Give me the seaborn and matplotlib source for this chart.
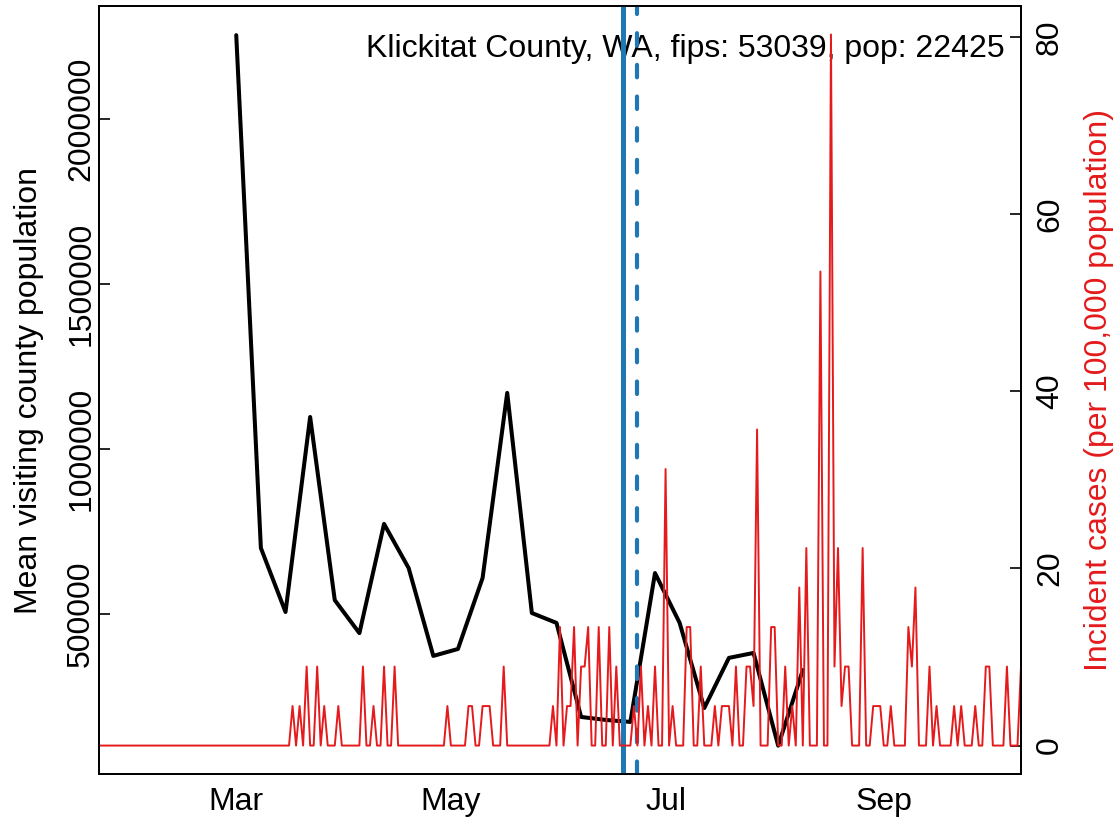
import pandas as pd
import seaborn as sns
import matplotlib.pyplot as plt
import matplotlib.dates as mdates

county_label = "Klickitat County, WA, fips: 53039, pop: 22425"
county_pop = 22425

# daily new cases, starting 2020-01-22
case_start = "2020-01-22"
daily_cases = [
    0, 0, 0, 0, 0, 0, 0, 0, 0, 0, 0, 0, 0, 0, 0, 0, 0, 0, 0, 0,
    0, 0, 0, 0, 0, 0, 0, 0, 0, 0, 0, 0, 0, 0, 0, 0, 0, 0, 0, 0,
    0, 0, 0, 0, 0, 0, 0, 0, 0, 0, 0, 0, 0, 0, 0, 1, 0, 1, 0, 2,
    0, 0, 2, 0, 1, 0, 0, 0, 1, 0, 0, 0, 0, 0, 0, 2, 0, 0, 1, 0,
    0, 2, 0, 0, 2, 0, 0, 0, 0, 0, 0, 0, 0, 0, 0, 0, 0, 0, 0, 1,
    0, 0, 0, 0, 0, 1, 1, 0, 0, 1, 1, 1, 0, 0, 0, 2, 0, 0, 0, 0,
    0, 0, 0, 0, 0, 0, 0, 0, 0, 1, 0, 3, 0, 1, 1, 3, 0, 2, 2, 3,
    0, 0, 3, 0, 0, 3, 0, 2, 0, 0, 0, 0, 1, 0, 2, 0, 1, 0, 2, 0,
    0, 7, 0, 1, 0, 0, 0, 3, 3, 0, 0, 2, 0, 0, 0, 1, 0, 1, 1, 1,
    0, 2, 0, 0, 2, 2, 1, 8, 0, 0, 0, 3, 3, 0, 0, 2, 0, 1, 0, 4,
    0, 5, 0, 0, 0, 12, 0, 0, 18, 2, 5, 1, 2, 2, 0, 0, 0, 5, 0, 0,
    1, 1, 1, 0, 0, 1, 0, 0, 0, 0, 3, 2, 4, 0, 0, 0, 2, 0, 1, 0,
    0, 0, 0, 1, 0, 1, 0, 0, 0, 1, 0, 0, 2, 2, 0, 0, 0, 0, 2, 0,
    0, 0, 2,
]

# weekly mean visiting county population, starting 2020-03-01
visit_start = "2020-03-01"
visit_pop = [
    2254000, 700000, 506000, 1097000, 542000, 442000, 773000, 639000,
    373000, 394000, 609000, 1170000, 503000, 473000, 188000, 179000,
    173000, 624000, 473000, 215000, 367000, 382000, 101000, 330000,
]

policy_dates = ["2020-06-19", "2020-06-23"]

cases = pd.DataFrame({
    "date": pd.date_range(case_start, periods=len(daily_cases), freq="D"),
    "incidence": [c / county_pop * 100000 for c in daily_cases],
})
visits = pd.DataFrame({
    "date": pd.date_range(visit_start, periods=len(visit_pop), freq="7D"),
    "pop": visit_pop,
})

sns.set_style("white")
plt.rcParams["font.family"] = ["Liberation Sans", "DejaVu Sans"]
plt.rcParams["font.size"] = 23
plt.rcParams["text.color"] = "black"
plt.rcParams["axes.labelcolor"] = "black"
plt.rcParams["xtick.color"] = "black"
plt.rcParams["ytick.color"] = "black"

red = "#E41A1C"
blue = "#1F78B4"

fig = plt.figure(figsize=(11.19, 8.22), dpi=100)
ax = fig.add_axes([99 / 1119, 48 / 822, 922 / 1119, 768 / 822])
ax2 = ax.twinx()

sns.lineplot(data=visits, x="date", y="pop", ax=ax, color="black", lw=2.9)

ax2.axvline(pd.Timestamp(policy_dates[0]), color=blue, lw=3.6)
ax2.axvline(pd.Timestamp(policy_dates[1]), color=blue, lw=3.0,
            ls=(0, (3.0, 4.6)), dash_capstyle="round")
sns.lineplot(data=cases, x="date", y="incidence", ax=ax2, color=red, lw=1.4)

ax.set_xlim(cases["date"].iloc[0], cases["date"].iloc[-1])
ax.set_ylim(15150, 2342400)
ax2.set_ylim(-3.21, 83.48)

ax.xaxis.set_major_locator(mdates.MonthLocator(bymonth=[3, 5, 7, 9]))
ax.xaxis.set_major_formatter(mdates.DateFormatter("%b"))
ax.set_yticks([500000, 1000000, 1500000, 2000000])
ax.set_yticklabels(["500000", "1000000", "1500000", "2000000"], rotation=90, va="center")
ax2.set_yticks([0, 20, 40, 60, 80])
ax2.set_yticklabels(["0", "20", "40", "60", "80"], rotation=90, va="center")

ax.tick_params(axis="x", direction="in", length=8, width=1.2, pad=9)
ax.tick_params(axis="y", direction="in", length=8, width=1.2, pad=2)
ax2.tick_params(axis="y", direction="in", length=8, width=1.2, pad=10)

ax.set_xlabel("")
ax.set_ylabel("Mean visiting county population", labelpad=16)
ax2.set_ylabel("Incident cases (per 100,000 population)", color=red, labelpad=14)

for a in (ax, ax2):
    for s in a.spines.values():
        s.set_visible(True)
        s.set_color("black")
        s.set_linewidth(1.3)

ax.text(0.9826, 0.9336, county_label, transform=ax.transAxes, ha="right", va="baseline")

fig.savefig("out.png", dpi=100)
